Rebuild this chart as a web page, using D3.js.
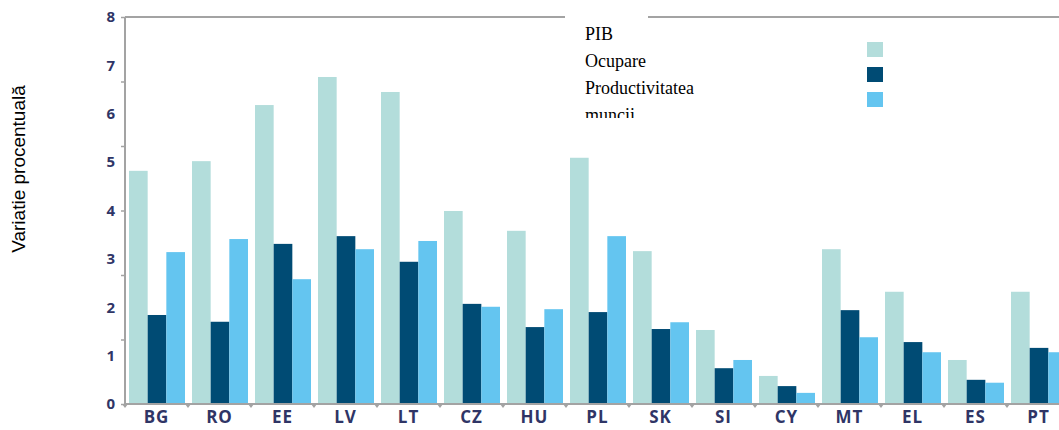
<!DOCTYPE html>
<html>
<head>
<meta charset="utf-8">
<script src="https://cdn.jsdelivr.net/npm/d3@7"></script>
<style>
  html, body { margin: 0; padding: 0; background: #fff; }
  svg { display: block; }
</style>
</head>
<body>
<svg id="chart" width="1059" height="430"></svg>
<script>
// Country codes along the x axis
const categories = ["BG", "RO", "EE", "LV", "LT", "CZ", "HU", "PL", "SK", "SI", "CY", "MT", "EL", "ES", "PT"];
// Series names (legend text)
const seriesNames = ["PIB", "Ocupare", "Productivitatea muncii"];
// Percentage change per country
const pib          = [4.82, 5.02, 6.18, 6.76, 6.45, 3.99, 3.58, 5.09, 3.16, 1.53, 0.58, 3.20, 2.32, 0.91, 2.32];
const ocupare      = [1.84, 1.70, 3.31, 3.47, 2.94, 2.07, 1.59, 1.90, 1.55, 0.74, 0.37, 1.94, 1.28, 0.50, 1.16];
const productivitate = [3.14, 3.41, 2.58, 3.20, 3.37, 2.01, 1.96, 3.47, 1.69, 0.91, 0.23, 1.38, 1.07, 0.44, 1.07];
// Y tick labels
const yTicks = [0, 1, 2, 3, 4, 5, 6, 7, 8];

const colors = ["#b3dddb", "#004b74", "#64c5f0"];
const series = [pib, ocupare, productivitate];

const svg = d3.select("#chart");
const plotLeft = 125, plotBase = 404, plotTop = 17, step = 63;

const x = d3.scaleBand()
  .domain(categories)
  .range([plotLeft, plotLeft + step * categories.length])
  .paddingInner(0).paddingOuter(0);

const xInner = d3.scaleBand()
  .domain(d3.range(series.length))
  .range([4, 60]);

const y = d3.scaleLinear().domain([0, 8]).range([plotBase, plotTop]);
// minor tick marks on the value axis split it into six parts
const yMarks = d3.scaleLinear().domain([0, 6]).range([plotBase, plotTop]);

const axisColor = "#a3a3a3";
const labelColor = "#2f3566";

// Bars
const groups = svg.append("g").selectAll("g")
  .data(categories)
  .join("g")
  .attr("transform", d => `translate(${x(d)},0)`);

groups.selectAll("rect")
  .data((d, i) => series.map((s, k) => ({ k, v: s[i] })))
  .join("rect")
  .attr("x", d => xInner(d.k))
  .attr("width", xInner.bandwidth())
  .attr("y", d => y(d.v))
  .attr("height", d => plotBase - y(d.v))
  .attr("fill", d => colors[d.k]);

// Frame: left axis, top rule, baseline
svg.append("line").attr("x1", plotLeft).attr("x2", plotLeft).attr("y1", plotTop).attr("y2", plotBase)
  .attr("stroke", axisColor).attr("stroke-width", 2);
svg.append("line").attr("x1", plotLeft).attr("x2", 1059).attr("y1", plotTop).attr("y2", plotTop)
  .attr("stroke", axisColor).attr("stroke-width", 2);
svg.append("line").attr("x1", plotLeft).attr("x2", 1059).attr("y1", plotBase).attr("y2", plotBase)
  .attr("stroke", axisColor).attr("stroke-width", 2);

// Value axis labels
const yAxis = svg.append("g")
  .attr("transform", `translate(${plotLeft},0)`)
  .call(d3.axisLeft(y).tickValues(yTicks).tickSize(0).tickPadding(10).tickFormat(d3.format("d")));
yAxis.select(".domain").remove();
yAxis.selectAll("text")
  .attr("fill", labelColor)
  .style("font-family", "'Open Sans', sans-serif")
  .style("font-weight", "700")
  .style("font-size", "15px");

// Minor tick marks on the value axis
const yMarkAxis = svg.append("g")
  .attr("transform", `translate(${plotLeft},0)`)
  .call(d3.axisLeft(yMarks).ticks(6).tickSize(4).tickFormat(""));
yMarkAxis.select(".domain").remove();
yMarkAxis.selectAll("line").attr("stroke", axisColor).attr("stroke-width", 1.5);

// Category labels
const xAxis = svg.append("g")
  .attr("transform", `translate(0,${plotBase})`)
  .call(d3.axisBottom(x).tickSize(0).tickPadding(7));
xAxis.select(".domain").remove();
xAxis.selectAll("text")
  .attr("fill", labelColor)
  .style("font-family", "'Open Sans', sans-serif")
  .style("font-weight", "700")
  .style("font-size", "17px")
  .style("letter-spacing", "1px");

// Small triangular markers at the group boundaries
svg.append("g").selectAll("path")
  .data(categories)
  .join("path")
  .attr("d", d => {
    const cx = x(d);
    return `M${cx - 3},${plotBase} L${cx + 3},${plotBase} L${cx},${plotBase + 4} Z`;
  })
  .attr("fill", axisColor);

// Legend box, over the top rule
const legend = svg.append("g");
legend.append("rect")
  .attr("x", 565).attr("y", 10).attr("width", 83).attr("height", 108)
  .attr("fill", "#fff");
const legendClip = svg.append("defs").append("clipPath").attr("id", "legclip");
legendClip.append("rect").attr("x", 560).attr("y", 0).attr("width", 400).attr("height", 118);
const legText = legend.append("g").attr("clip-path", "url(#legclip)");
const legLines = ["PIB", "Ocupare", "Productivitatea", "muncii"];
const legY = [40, 67, 94, 121];
legText.selectAll("text")
  .data(legLines)
  .join("text")
  .attr("x", 585)
  .attr("y", (d, i) => legY[i])
  .attr("fill", "#000")
  .style("font-family", "'Liberation Serif', 'Times New Roman', serif")
  .style("font-size", "18px")
  .text(d => d);

const swatchY = d3.scaleBand().domain(seriesNames).range([42, 117]).paddingInner(0);
legend.selectAll("rect.sw")
  .data(seriesNames)
  .join("rect")
  .attr("class", "sw")
  .attr("x", 867)
  .attr("y", d => swatchY(d))
  .attr("width", 16)
  .attr("height", 15)
  .attr("fill", (d, i) => colors[i]);

// Vertical axis title
svg.append("text")
  .attr("transform", "translate(25,169) rotate(-90)")
  .attr("text-anchor", "middle")
  .attr("fill", "#000")
  .style("font-family", "'Liberation Sans', Arial, sans-serif")
  .style("font-size", "19px")
  .text("Variatie procentuală");
</script>
</body>
</html>
